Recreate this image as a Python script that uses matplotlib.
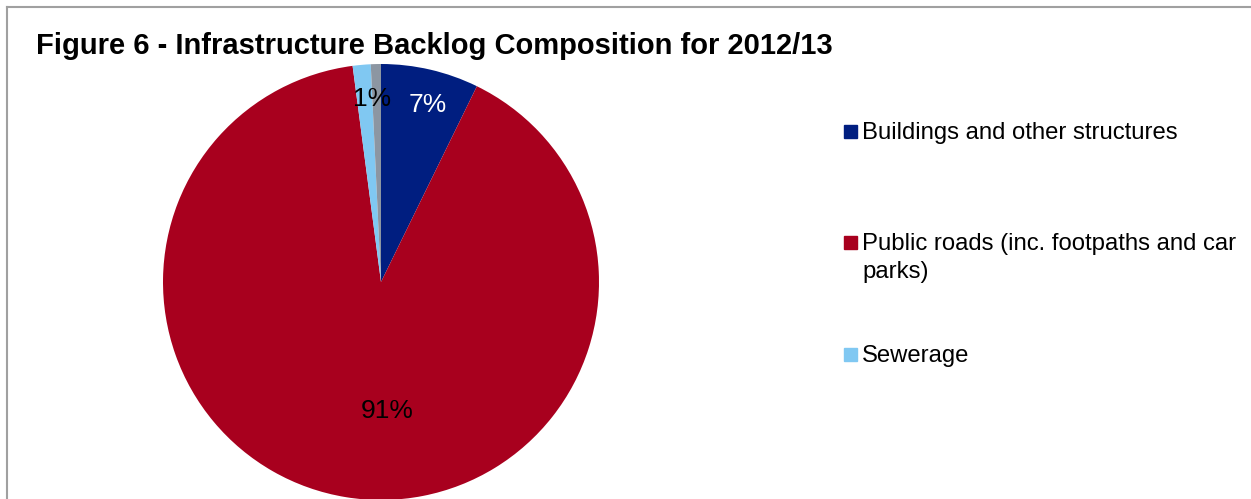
import numpy as np
from matplotlib import pyplot as plt
from matplotlib.patches import Rectangle
from matplotlib.lines import Line2D

plt.rcParams['font.family'] = ['Liberation Sans', 'DejaVu Sans']

##

categories = ['Buildings and other structures',
              'Public roads (inc. footpaths and car\nparks)',
              'Sewerage',
              'Other']
shares = [7.25, 90.67, 1.33, 0.75]
labels = ['7%', '91%', '1%', '']
colors = ['#001e80', '#a8001e', '#80c8f2', '#8c96a2']

W, H = 1251, 499
fig = plt.figure(figsize=(W/100, H/100), dpi=100)

# pie centre (381, 282) px, radius 218 px
cx, cy, r = 381, 282, 218
ax = fig.add_axes([(cx-r)/W, (H-cy-r)/H, 2*r/W, 2*r/H])
wedges, texts = ax.pie(shares, colors=colors, startangle=90, counterclock=False,
                       radius=1, wedgeprops=dict(linewidth=0))
ax.set_xlim(-1, 1)
ax.set_ylim(-1, 1)
ax.set_aspect('equal')
ax.axis('off')

# data labels, placed like Excel's best fit
label_pos = [(0.215, 0.81), (0.03, -0.59), (-0.04, 0.84), (0, 0)]
label_col = ['white', 'black', 'black', 'black']
for lab, (x, y), c in zip(labels, label_pos, label_col):
    if lab:
        ax.text(x, y, lab, color=c, fontsize=19, ha='center', va='center')

# title
fig.text(36/W, 1-46/H, 'Figure 6 - Infrastructure Backlog Composition for 2012/13',
         fontsize=21, fontweight='bold', ha='left', va='center')

# legend (manual, Excel-style spacing); y = baseline of first line
leg_y = [139, 250, 362]
line_h = 28
for lab, col, y in zip(categories[:3], colors[:3], leg_y):
    fig.patches.append(Rectangle((844/W, 1-(y-1)/H), 13/W, 13/H,
                                 transform=fig.transFigure, color=col))
    for k, part in enumerate(lab.split('\n')):
        fig.text(862/W, 1-(y + k*line_h)/H, part, fontsize=17.2,
                 ha='left', va='baseline')

# chart border
fig.lines.append(Line2D([7/W, 7/W], [0, 1-7/H], transform=fig.transFigure,
                        color='#a0a0a0', lw=1.5))
fig.lines.append(Line2D([7/W, 1], [1-7/H, 1-7/H], transform=fig.transFigure,
                        color='#a0a0a0', lw=1.5))

fig.savefig('out.png', dpi=100)
